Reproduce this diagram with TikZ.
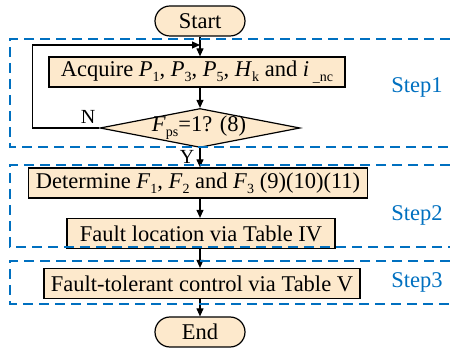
\documentclass[tikz,border=0pt]{standalone}
\usepackage{fontspec}
\setmainfont{Liberation Serif}
\usetikzlibrary{shapes.geometric,shapes.misc,arrows.meta}
\definecolor{boxfill}{RGB}{253,233,204}
\definecolor{stepblue}{RGB}{0,112,192}
\newcommand{\sbs}[1]{\raisebox{-0.22em}{\fontsize{14}{14}\selectfont #1}}
\begin{document}
\begin{tikzpicture}[x=1pt,y=-1pt, font=\fontsize{22.5}{26}\selectfont,
 box/.style={draw,fill=boxfill,line width=1.2pt,inner sep=0pt,minimum height=30pt},
 term/.style={rounded rectangle,draw,fill=boxfill,line width=1.2pt,inner sep=0pt,minimum width=90pt,minimum height=30pt},
 flow/.style={line width=1.1pt,-{Triangle[length=8pt,width=7pt]}},
 stepframe/.style={draw=stepblue,line width=1.3pt,dash pattern=on 10pt off 6pt},
 steplabel/.style={text=stepblue},
 yn/.style={font=\fontsize{20}{22}\selectfont}]
\useasboundingbox (0,0) rectangle (450,352);
% nodes
\node[term] (start) at (200,21) {Start};
\node[box,minimum width=296pt] (acq) at (197,72) {Acquire \textit{P}\sbs{1}, \textit{P}\sbs{3}, \textit{P}\sbs{5}, \textit{H}\sbs{k} and \textit{i}\,\sbs{\_nc}};
\node[diamond,draw,fill=boxfill,line width=1.2pt,inner sep=0pt,minimum width=200pt,minimum height=39pt] (dec) at (200,128) {};
\node (dect) at (199,128) {\textit{F}\sbs{ps}=1? (8)};
\node[box,minimum width=339pt] (det) at (198,183) {Determine \textit{F}\sbs{1}, \textit{F}\sbs{2} and \textit{F}\sbs{3} (9)(10)(11)};
\node[box,minimum width=268pt] (loc) at (201,233.5) {Fault location via Table IV};
\node[box,minimum width=316pt] (ftc) at (202,283.5) {Fault-tolerant control via Table V};
\node[term] (end) at (200,332) {End};
% connectors
\coordinate (lp) at (200,45);
\draw[flow] (start.south) -- (start.south |- acq.north);
\draw[flow] (dec.north |- acq.south) -- (dec.north);
\draw[flow] (dec.south) -- (dec.south |- det.north);
\draw[flow] (dec.south |- det.south) -- (dec.south |- loc.north);
\draw[flow] (dec.south |- loc.south) -- (dec.south |- ftc.north);
\draw[flow] (end.north |- ftc.south) -- (end.north);
\draw[flow] (dec.west) -- ++(-67,0) |- (lp);
\node[yn] (nlab) at (88,117) {N};
\node[yn] (ylab) at (187,157) {Y};
% step frames
\draw[stepframe] (450,39) -- (10,39) -- (10,147) -- (450,147);
\draw[stepframe] (450,165) -- (10,165) -- (10,247) -- (450,247);
\draw[stepframe] (450,261) -- (10,261) -- (10,304) -- (450,304);
\node[steplabel] (s1) at (417,87) {Step1};
\node[steplabel] (s2) at (417,215) {Step2};
\node[steplabel] (s3) at (417,282) {Step3};
\end{tikzpicture}
\end{document}
